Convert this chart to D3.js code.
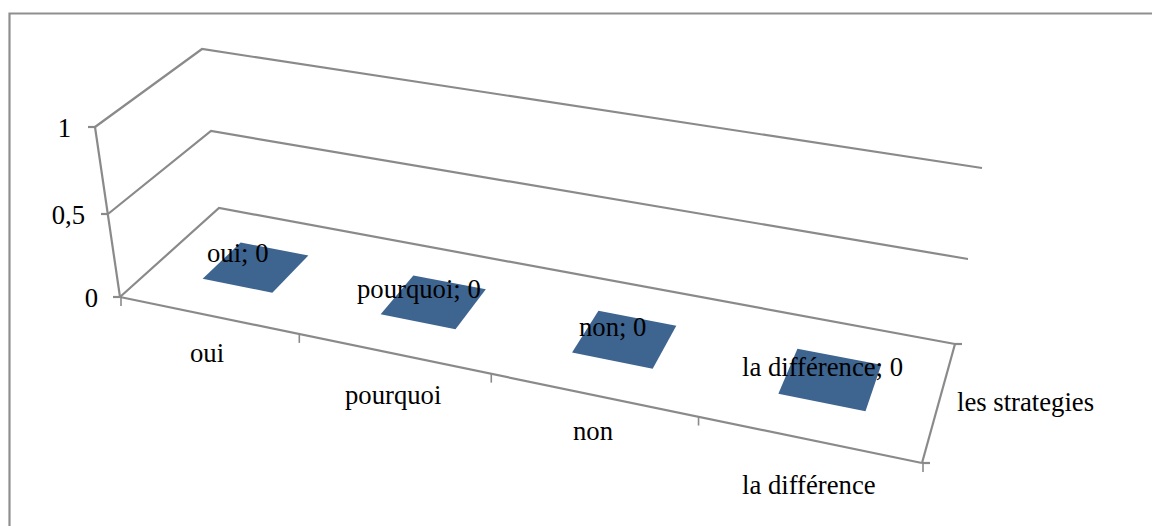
<!DOCTYPE html>
<html><head><meta charset="utf-8">
<script src="https://cdn.jsdelivr.net/npm/d3@7"></script>
<style>html,body{margin:0;padding:0;background:#fff}svg{display:block}text{font-family:"Liberation Serif","Times New Roman",serif;font-size:26.7px;fill:#000}</style>
</head><body><svg id="c" width="1152" height="526"></svg>
<script>
const categories = ["oui","pourquoi","non","la différence"];
const seriesName = "les strategies";
const values = [0,0,0,0];
const valueTicks = [0,0.5,1];
const valueTickLabels = ["0","0,5","1"];

const frontLeftX = d3.scaleLinear().domain([0,0.5,1]).range([120,108,95]);
const frontLeftY = d3.scaleLinear().domain([0,0.5,1]).range([297,214,127]);
const backLeftX = d3.scaleLinear().domain([0,0.5,1]).range([219,211,202]);
const backLeftY = d3.scaleLinear().domain([0,0.5,1]).range([208,131,49]);
const backRightX = d3.scaleLinear().domain([0,0.5,1]).range([955,968,982]);
const backRightY = d3.scaleLinear().domain([0,0.5,1]).range([344,259,168]);
const frontRight = [922,463];
const u = d3.scaleBand().domain(categories).range([0,1]).paddingInner(0).paddingOuter(0);

// projective map of the floor's unit square onto its quadrilateral
function homography(p0,p1,p2,p3){
  const dx1=p1[0]-p2[0],dx2=p3[0]-p2[0],sx=p0[0]-p1[0]+p2[0]-p3[0];
  const dy1=p1[1]-p2[1],dy2=p3[1]-p2[1],sy=p0[1]-p1[1]+p2[1]-p3[1];
  const det=dx1*dy2-dx2*dy1;
  const g=(sx*dy2-dx2*sy)/det,h=(dx1*sy-sx*dy1)/det;
  const a=p1[0]-p0[0]+g*p1[0],b=p3[0]-p0[0]+h*p3[0],c=p0[0];
  const d=p1[1]-p0[1]+g*p1[1],e=p3[1]-p0[1]+h*p3[1],f=p0[1];
  return (x,y)=>{const w=g*x+h*y+1;return [(a*x+b*y+c)/w,(d*x+e*y+f)/w];};
}
const fl=[frontLeftX(0),frontLeftY(0)],bl=[backLeftX(0),backLeftY(0)],br=[backRightX(0),backRightY(0)];
const floor=homography(fl,frontRight,br,bl);

const svg=d3.select("#c");
const gray="#8a8a8a";
const line=(x1,y1,x2,y2,w=2.2)=>svg.append("line").attr("x1",x1).attr("y1",y1).attr("x2",x2).attr("y2",y2).attr("stroke",gray).attr("stroke-width",w);

// chart frame: only top and left edges fall inside the picture
svg.append("path").attr("d","M9.5,540V13.5H1152").attr("fill","none").attr("stroke","#8f8f8f").attr("stroke-width",2.2);

// walls and floor
const labelOffset=[22,23,24];
valueTicks.forEach((t,i)=>{
  const pts=[[frontLeftX(t),frontLeftY(t)],[backLeftX(t),backLeftY(t)],[backRightX(t),backRightY(t)]];
  svg.append("path").attr("d",d3.line()(pts)).attr("fill","none").attr("stroke",gray).attr("stroke-width",2.2);
  line(frontLeftX(t)-7,frontLeftY(t),frontLeftX(t),frontLeftY(t));
  svg.append("text").attr("x",frontLeftX(t)-labelOffset[i]).attr("y",frontLeftY(t)+10).attr("text-anchor","end").text(valueTickLabels[i]);
});
line(frontLeftX(1),frontLeftY(1),frontLeftX(0),frontLeftY(0));
line(fl[0],fl[1],frontRight[0],frontRight[1]);
line(br[0],br[1],frontRight[0],frontRight[1]);
line(br[0],br[1],br[0]+7,br[1]);
line(frontRight[0],frontRight[1],frontRight[0]+8,frontRight[1]);

// category ticks
[0,1,2,3,4].forEach(i=>{const p=floor(i/4,0);line(p[0]+1,p[1],p[0]+1,p[1]+9,1.6);});

// flat bars, zero height
const pad=0.30,dep=0.30;
categories.forEach((c,i)=>{
  const a=u(c)+u.bandwidth()*pad,b=u(c)+u.bandwidth()*(1-pad);
  const q=[floor(a,dep),floor(b,dep),floor(b,1-dep),floor(a,1-dep)];
  svg.append("polygon").attr("points",q.map(p=>p.join(",")).join(" ")).attr("fill","#3e6490");
});

const catLabelX=[190,345,573,742],catLabelY=[362,404,440,494];
categories.forEach((c,i)=>svg.append("text").attr("x",catLabelX[i]).attr("y",catLabelY[i]).text(c));
const dataLabelX=[207,357,579,742],dataLabelY=[262,298,336,376];
categories.forEach((c,i)=>svg.append("text").attr("x",dataLabelX[i]).attr("y",dataLabelY[i]).text(c+"; "+d3.format("d")(values[i])));
svg.append("text").attr("x",957).attr("y",411).text(seriesName);
</script></body></html>
